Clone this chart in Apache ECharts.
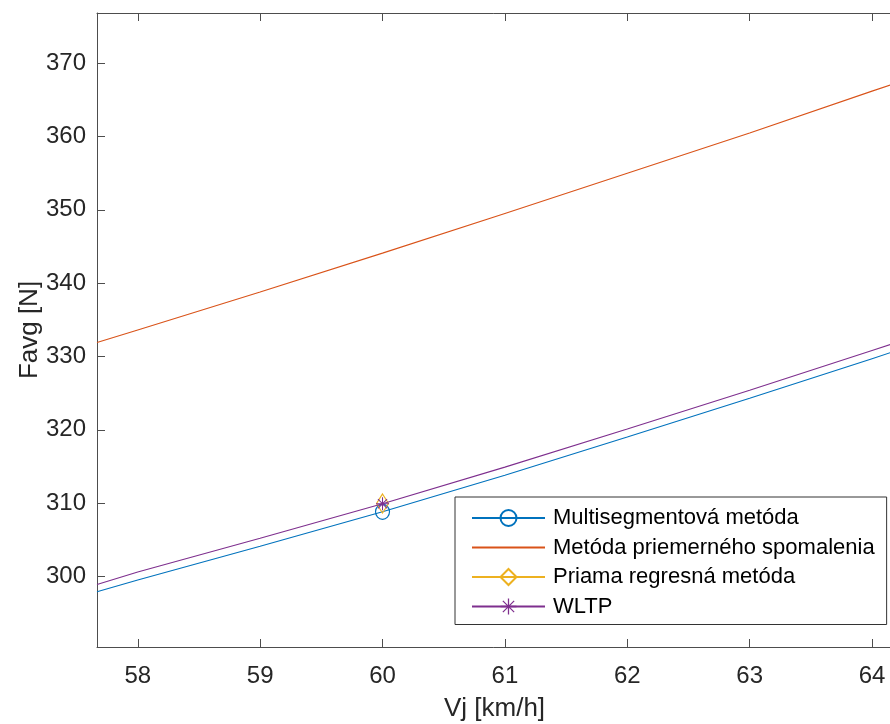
<!DOCTYPE html>
<html>
<head>
<meta charset="utf-8">
<script src="https://cdn.jsdelivr.net/npm/echarts@6/dist/echarts.min.js"></script>
<style>
html,body{margin:0;padding:0;background:#fff;}
#c{width:890px;height:724px;}
</style>
</head>
<body>
<div id="c"></div>
<script>
// ---- data ----
const xTicks = [58, 59, 60, 61, 62, 63, 64];
const yTicks = [300, 310, 320, 330, 340, 350, 360, 370];
const xRange = [57.667, 64.163];
const yRange = [290.36, 376.86];

const vx = [57.667, 58, 59, 60, 61, 62, 63, 64, 64.163];
const multisegment = [297.9, 299.5, 304.1, 308.8, 313.8, 319.0, 324.3, 329.7, 330.6];
const priemerne   = [331.9, 333.6, 338.8, 344.1, 349.5, 355.0, 360.5, 366.2, 367.1];
const wltp        = [298.9, 300.6, 305.2, 309.9, 314.9, 320.1, 325.4, 330.8, 331.7];
const regresX = [60];
const regresY = [309.95];
const markerX = 60;

const names = ['Multisegmentová metóda', 'Metóda priemerného spomalenia', 'Priama regresná metóda', 'WLTP'];
const colors = ['#0072BD', '#D95319', '#EDB120', '#7E2F8E'];

const starPath = 'path://M-0.8,-10L0.8,-10L0.8,10L-0.8,10Z M-10,-0.8L10,-0.8L10,0.8L-10,0.8Z M-6.5,-7.6L7.6,6.5L6.5,7.6L-7.6,-6.5Z M-7.6,6.5L6.5,-7.6L7.6,-6.5L-6.5,7.6Z';

function withMarker(xs, ys) {
  return xs.map((x, i) => {
    const item = { value: [x, ys[i]] };
    if (x !== markerX) item.symbol = 'none';
    return item;
  });
}

const axisColor = '#4d4d4d';
const textColor = '#262626';
const fontFam = '"Liberation Sans", Arial, Helvetica, sans-serif';

const chart = echarts.init(document.getElementById('c'), null, { renderer: 'canvas' });
chart.setOption({
  animation: false,
  backgroundColor: '#fff',
  grid: { left: 97, top: 13, right: -2, bottom: 77, containLabel: false, outerBoundsMode: 'none' },
  xAxis: [{
    type: 'value', min: xRange[0], max: xRange[1], position: 'bottom',
    name: 'Vj [km/h]', nameLocation: 'middle', nameGap: 49, nameMoveOverlap: false,
    nameTextStyle: { fontSize: 26, color: textColor, fontFamily: fontFam },
    axisLine: { show: true, onZero: false, lineStyle: { color: axisColor, width: 1 } },
    axisTick: { show: true, inside: true, length: 8, customValues: xTicks, lineStyle: { color: axisColor } },
    axisLabel: { show: true, customValues: xTicks, fontSize: 24, color: textColor, fontFamily: fontFam, margin: 17 },
    splitLine: { show: false }
  }, {
    type: 'value', min: xRange[0], max: xRange[1], position: 'top',
    axisLine: { show: true, onZero: false, lineStyle: { color: axisColor, width: 1 } },
    axisTick: { show: true, inside: true, length: 8, customValues: xTicks, lineStyle: { color: axisColor } },
    axisLabel: { show: false },
    splitLine: { show: false }
  }],
  yAxis: [{
    type: 'value', min: yRange[0], max: yRange[1],
    name: 'Favg [N]', nameLocation: 'middle', nameGap: 54, nameRotate: 90, nameMoveOverlap: false,
    nameTextStyle: { fontSize: 26, color: textColor, fontFamily: fontFam },
    axisLine: { show: true, onZero: false, lineStyle: { color: axisColor, width: 1 } },
    axisTick: { show: true, inside: true, length: 8, customValues: yTicks, lineStyle: { color: axisColor } },
    axisLabel: { show: true, customValues: yTicks, fontSize: 24, color: textColor, fontFamily: fontFam, margin: 11 },
    splitLine: { show: false }
  }],
  legend: {
    orient: 'vertical', left: 455, top: 497,
    padding: [10, 12, 7, 16],
    itemWidth: 73, itemHeight: 20, itemGap: 7.5,
    backgroundColor: '#fff', borderColor: '#333', borderWidth: 1,
    textStyle: { fontSize: 22, color: '#000', fontFamily: fontFam, padding: [0, 0, 0, 3] },
    data: [
      { name: names[0] },
      { name: names[1], itemStyle: { color: 'rgba(0,0,0,0)', borderWidth: 0, opacity: 0 } },
      { name: names[2] },
      { name: names[3] }
    ]
  },
  series: [
    {
      name: names[0], type: 'line', xAxisIndex: 0, yAxisIndex: 0,
      data: withMarker(vx, multisegment),
      symbol: 'circle', symbolSize: [14, 15], showSymbol: true,
      lineStyle: { color: colors[0], width: 1.1 },
      itemStyle: { color: 'rgba(255,255,255,0)', borderColor: colors[0], borderWidth: 1.2 },
      emphasis: { disabled: true }, clip: true, z: 3
    },
    {
      name: names[1], type: 'line', xAxisIndex: 0, yAxisIndex: 0,
      data: vx.map((x, i) => [x, priemerne[i]]),
      symbol: 'none',
      lineStyle: { color: colors[1], width: 1.1 },
      itemStyle: { color: colors[1] },
      emphasis: { disabled: true }, clip: true, z: 3
    },
    {
      name: names[2], type: 'line', xAxisIndex: 0, yAxisIndex: 0,
      data: regresX.map((x, i) => [x, regresY[i]]),
      symbol: 'diamond', symbolSize: [12, 19], showSymbol: true,
      lineStyle: { color: colors[2], width: 1.1 },
      itemStyle: { color: 'rgba(255,255,255,0)', borderColor: colors[2], borderWidth: 1.2 },
      emphasis: { disabled: true }, clip: true, z: 4
    },
    {
      name: names[3], type: 'line', xAxisIndex: 0, yAxisIndex: 0,
      data: withMarker(vx, wltp),
      symbol: starPath, symbolSize: 13, showSymbol: true,
      lineStyle: { color: colors[3], width: 1.1 },
      itemStyle: { color: colors[3] },
      emphasis: { disabled: true }, clip: true, z: 5
    }
  ]
});
</script>
</body>
</html>
